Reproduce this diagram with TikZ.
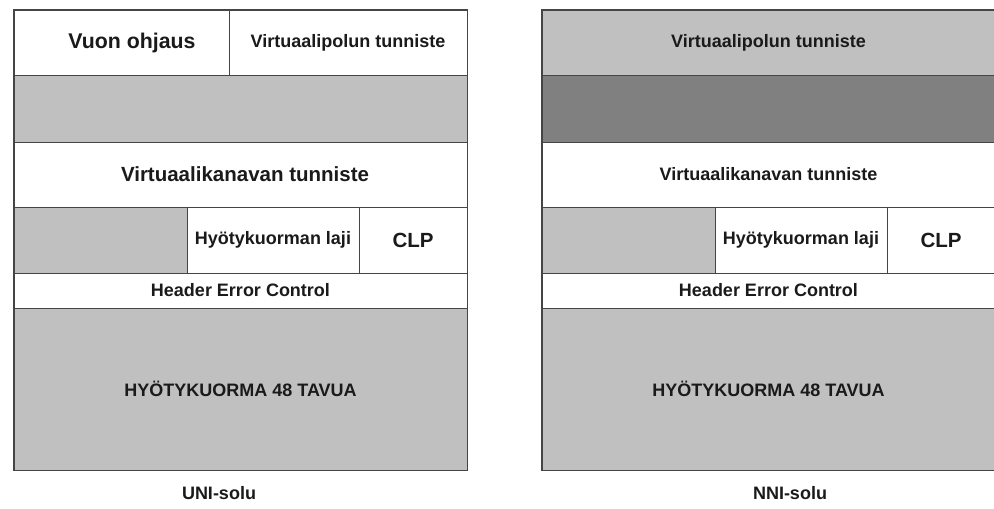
\documentclass[tikz,border=0pt]{standalone}
\usepackage{fontspec}
\setmainfont{Liberation Sans}
\definecolor{fieldlight}{HTML}{C0C0C0}
\definecolor{fielddark}{HTML}{808080}
\definecolor{rule}{HTML}{454545}
\definecolor{ink}{HTML}{1A1A1A}
\begin{document}
\begin{tikzpicture}[x=1pt,y=-1pt,
  field/.style={draw=rule, line width=0.9pt, inner sep=0pt, fill=white,
    text=ink, font=\bfseries\fontsize{18}{20}\selectfont},
  big/.style={font=\bfseries\fontsize{20.5}{22}\selectfont},
  light/.style={fill=fieldlight},
  dark/.style={fill=fielddark},
  frame/.style={draw=rule, line width=1.6pt},
  caption/.style={text=ink, inner sep=0pt, font=\bfseries\fontsize{18}{20}\selectfont}]
\useasboundingbox (0,0) rectangle (994,509);

% ---------------- UNI cell header ----------------
\node[field, minimum width=215, minimum height=65] (uGFC) at (121.5,42.5) {};
\node[text=ink, inner sep=0pt, font=\bfseries\fontsize{21.3}{23}\selectfont] (uGFCt) at (132,42.5) {Vuon ohjaus};
\node[field, minimum width=238, minimum height=65] (uVPI) at (348,42.5) {Virtuaalipolun tunniste};
\node[field, light, minimum width=453, minimum height=67] (uVPIb) at (240.5,108.5) {};
\node[field, minimum width=453, minimum height=65] (uVCI) at (240.5,174.5) {};
\node[text=ink, inner sep=0pt, big] (uVCIt) at (245,174.5) {Virtuaalikanavan tunniste};
\node[field, light, minimum width=173, minimum height=66] (uVCIb) at (100.5,240) {};
\node[field, minimum width=172, minimum height=66] (uPT) at (273,240) {Hyötykuorman laji};
\node[field, big, minimum width=108, minimum height=66] (uCLP) at (413,240) {CLP};
\node[field, minimum width=453, minimum height=35] (uHEC) at (240.5,290.5) {Header Error Control};
\node[field, light, minimum width=453, minimum height=162] (uPay) at (240.5,389) {HYÖTYKUORMA 48 TAVUA};
\draw[frame] (uGFC.north west) rectangle (uPay.south east);
\node[caption] (uLabel) at (219,493) {UNI-solu};

% ---------------- NNI cell header ----------------
\node[field, light, minimum width=453, minimum height=65] (nVPI) at (768.5,42.5) {Virtuaalipolun tunniste};
\node[field, dark, minimum width=453, minimum height=67] (nVPIb) at (768.5,108.5) {};
\node[field, minimum width=453, minimum height=65] (nVCI) at (768.5,174.5) {Virtuaalikanavan tunniste};
\node[field, light, minimum width=173, minimum height=66] (nVCIb) at (628.5,240) {};
\node[field, minimum width=172, minimum height=66] (nPT) at (801,240) {Hyötykuorman laji};
\node[field, big, minimum width=108, minimum height=66] (nCLP) at (941,240) {CLP};
\node[field, minimum width=453, minimum height=35] (nHEC) at (768.5,290.5) {Header Error Control};
\node[field, light, minimum width=453, minimum height=162] (nPay) at (768.5,389) {HYÖTYKUORMA 48 TAVUA};
\draw[frame] (nVPI.north west) rectangle (nPay.south east);
\node[caption] (nLabel) at (790,493) {NNI-solu};
\end{tikzpicture}
\end{document}
